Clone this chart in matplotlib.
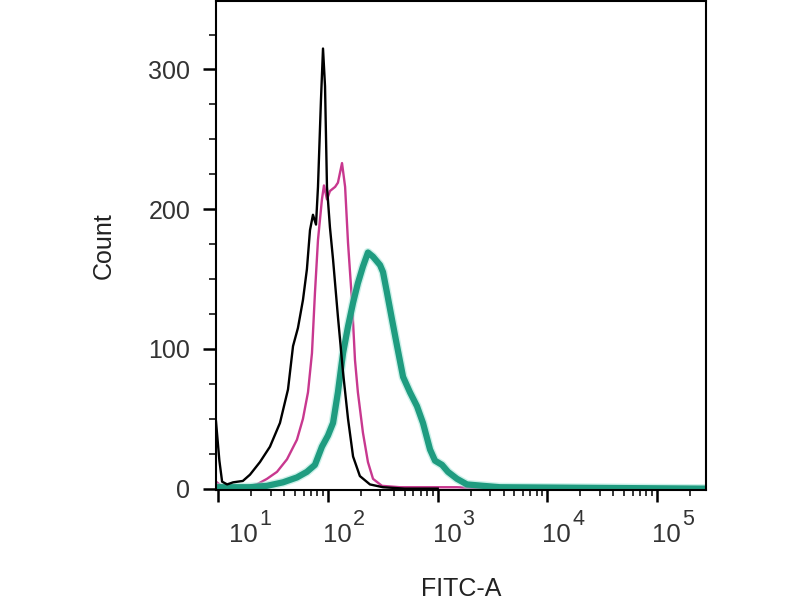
import matplotlib
matplotlib.use('Agg')
import matplotlib.pyplot as plt
import matplotlib.transforms as mtransforms
from matplotlib.ticker import FixedLocator, NullFormatter

plt.rcParams['font.family'] = ['Liberation Sans', 'DejaVu Sans']

# histogram outlines (FITC-A value, count)
black_x = [9.5, 10.2, 10.8, 12.0, 13.6, 16.7, 19.4, 23.9, 29.5, 36.4, 43.1, 47.9, 53.1,
           59.0, 64.1, 68.4, 72.8, 77.6, 80.9, 86.1, 89.9, 93.8, 97.7, 104, 111, 123,
           137, 152, 169, 195, 241, 317, 500, 1000]
black_y = [48, 20, 5, 3, 4.5, 5.5, 10, 19, 30, 47, 71, 102, 115,
           135, 157, 185, 196, 189, 216, 278, 315, 288, 216, 187, 164, 123,
           83, 50, 23, 9, 3, 1, 0, 0]

magenta_x = [9.5, 11.0, 16.7, 22.4, 27.7, 34.2, 42.2, 52.0, 59.0, 65.6, 71.3, 75.9,
             80.9, 87.9, 91.7, 97.7, 104, 116, 123, 134, 143, 152, 165, 176, 187,
             208, 231, 257, 310, 453, 800, 1500, 3000, 270000]
magenta_y = [5, 1, 1, 3, 7, 12, 21, 35, 50, 69, 97, 140,
             178, 207, 217, 207, 213, 216, 219, 233, 216, 176, 135, 92, 69,
             40, 19, 7, 2, 1, 1, 1, 0, 0]

teal_x = [9.5, 19.4, 27.7, 38.8, 52.0, 64.1, 75.9, 87.9, 99.8, 111, 123, 137, 152,
          169, 187, 208, 231, 257, 298, 317, 345, 383, 426, 483, 558, 647, 734,
          851, 945, 1095, 1241, 1500, 1850, 2590, 3700, 270000]
teal_y = [1, 1, 2, 4.5, 8, 12, 17, 30, 38, 47, 69, 97, 116,
          133, 147, 159, 169, 166, 160, 155, 140, 121, 102, 80, 69, 59, 47,
          28, 20, 17, 12, 7, 3, 2, 1, 0]

x_major = [10, 100, 1000, 10000, 100000]
x_exponents = ['1', '2', '3', '4', '5']
x_minor = [m * d for d in [10, 100, 1000, 10000] for m in range(2, 10)] + [200000]
y_major = [0, 100, 200, 300]
y_minor = [25, 50, 75, 125, 150, 175, 225, 250, 275, 325]

fig = plt.figure(figsize=(8, 6), dpi=100)
ax = fig.add_axes([0.27, 0.1833, 0.6125, 0.815])

ax.plot(magenta_x, magenta_y, color='#c8388f', lw=1.7, solid_joinstyle='round')
ax.plot(teal_x, teal_y, color='#9be3d4', lw=6.5, alpha=0.5, solid_joinstyle='round')
ax.plot(teal_x, teal_y, color='#1f9c80', lw=4.5, solid_joinstyle='round')
ax.plot(black_x, black_y, color='black', lw=1.7, solid_joinstyle='round')

ax.set_xscale('log')
ax.set_xlim(9.5, 280000)
ax.set_ylim(-1, 349)

ax.xaxis.set_major_locator(FixedLocator(x_major))
ax.xaxis.set_minor_locator(FixedLocator(x_minor))
ax.xaxis.set_major_formatter(NullFormatter())
ax.xaxis.set_minor_formatter(NullFormatter())
ax.yaxis.set_major_locator(FixedLocator(y_major))
ax.yaxis.set_minor_locator(FixedLocator(y_minor))

ax.tick_params(axis='x', which='major', length=8.5, width=1.8)
ax.tick_params(axis='x', which='minor', length=4.3, width=1.1)
ax.tick_params(axis='y', which='major', length=9.4, width=1.8, pad=9,
               labelsize=18, labelcolor='#333333')
ax.tick_params(axis='y', which='minor', length=5, width=1.1)

for s in ax.spines.values():
    s.set_linewidth(1.5)

# FACS style decade labels: "10" with a big raised exponent, right of the tick
shifts = [11, -5, -5, -5, -5]
base_tr = ax.get_xaxis_transform()
for xv, ex, dx in zip(x_major, x_exponents, shifts):
    t1 = base_tr + mtransforms.ScaledTranslation(dx / 100, -0.52, fig.dpi_scale_trans)
    ax.text(xv, 0, '10', transform=t1, ha='left', va='baseline',
            fontsize=18.5, color='#333333', clip_on=False)
    t2 = base_tr + mtransforms.ScaledTranslation((dx + 30) / 100, -0.35, fig.dpi_scale_trans)
    ax.text(xv, 0, ex, transform=t2, ha='left', va='baseline',
            fontsize=15.5, color='#333333', clip_on=False)

ax.set_xlabel('FITC-A', fontsize=18, color='#222222')
ax.set_ylabel('Count', fontsize=18, color='#222222')
ax.xaxis.set_label_coords(0.5, -0.178)
ax.yaxis.set_label_coords(-0.205, 0.5)

fig.savefig('out.png', dpi=100)
